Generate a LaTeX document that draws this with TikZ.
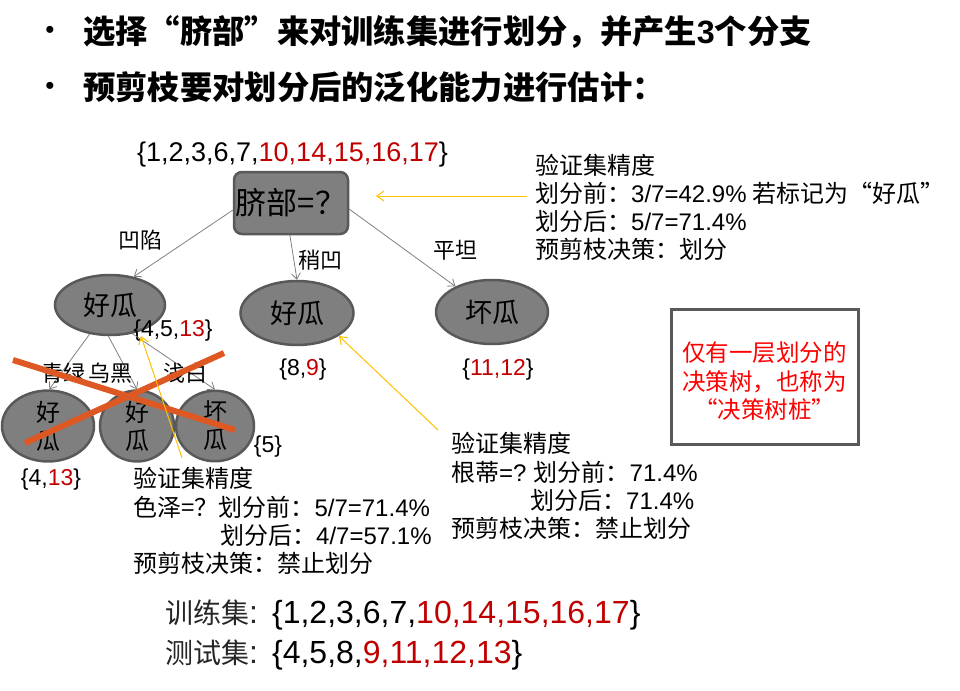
\documentclass[tikz,border=0pt]{standalone}
\usepackage{fontspec}
\setmainfont{Liberation Sans}
\newfontfamily\cjk{Noto Sans CJK SC}
\usetikzlibrary{shapes.geometric,arrows.meta}
\definecolor{nodefill}{RGB}{127,127,127}
\definecolor{nodeline}{RGB}{89,89,89}
\definecolor{setred}{RGB}{192,0,0}
\definecolor{crossred}{RGB}{222,88,36}
\definecolor{annoyellow}{RGB}{255,192,0}
\definecolor{edgegray}{RGB}{128,128,128}
\definecolor{boxred}{RGB}{255,0,0}
\newcommand\rd[1]{\textcolor{setred}{#1}}
\newcommand\lt[1]{{\rmfamily #1}}
\newcommand\fs[1]{\fontsize{#1}{#1}\selectfont}
\begin{document}
\begin{tikzpicture}[x=1pt,y=-1pt,
  treenode/.style={ellipse,draw=nodeline,fill=nodefill,line width=2.5pt,inner sep=0pt,font=\cjk\fs{27}},
  subnode/.style={ellipse,draw=nodeline,fill=nodefill,line width=2.5pt,inner sep=0pt,align=center,font=\cjk\fontsize{24}{28}\selectfont},
  rootbox/.style={rectangle,rounded corners=8pt,draw=nodeline,fill=nodefill,line width=2.5pt,minimum width=114pt,minimum height=62pt,inner sep=0pt,font=\cjk\fs{31}},
  edge/.style={draw=edgegray,line width=0.8pt,-{Straight Barb[length=6pt,width=9pt]}},
  yarrow/.style={draw=annoyellow,line width=1pt,-{Straight Barb[length=7pt,width=10pt]}},
  crossline/.style={draw=crossred,line width=6pt},
  elabel/.style={font=\cjk\fs{22},inner sep=0pt},
  setlabel/.style={font=\fs{23},inner sep=0pt,anchor=base},
  anno/.style={font=\cjk\fs{24},inner sep=0pt,anchor=base west},
  bullettext/.style={font=\cjk\bfseries\fs{32.3},inner sep=0pt,anchor=base west},
  redtext/.style={font=\cjk\fs{23.5},text=boxred,inner sep=0pt,anchor=base},
  bottomtext/.style={font=\cjk\fs{28},inner sep=0pt,anchor=base west,text=black!85}
]
\useasboundingbox (0,0) rectangle (960,690);

% bullets
\node[font=\fs{26},inner sep=0pt] (b1) at (50,32) {•};
\node[bullettext] (t1) at (83,44) {选择“脐部”来对训练集进行划分，并产生\lt{\bfseries 3}个分支};
\node[font=\fs{26},inner sep=0pt] (b2) at (50,88) {•};
\node[bullettext] (t2) at (83,100) {预剪枝要对划分后的泛化能力进行估计：};

% top set
\node[setlabel,font=\fs{27}] (rootset) at (292.5,161) {\{1,2,3,6,7,\rd{10,14,15,16,17}\}};

% tree
\node[rootbox] (root) at (291,203) {脐部=？};
\node[treenode,minimum width=110pt,minimum height=60pt] (L) at (110,305) {好瓜};
\node[treenode,minimum width=113pt,minimum height=64pt] (M) at (297,313) {好瓜};
\node[treenode,minimum width=112pt,minimum height=64pt] (R) at (492,312) {坏瓜};

\draw[edge] (root.187) -- (L.50);
\draw[edge] (root.-92) -- (M.north);
\draw[edge] (root.-6) -- (R.145);
\node[elabel] (l1) at (140,240) {凹陷};
\node[elabel] (l2) at (320,260) {稍凹};
\node[elabel] (l3) at (455,250) {平坦};

\node[setlabel] (setL) at (173,336) {\{4,5,\rd{13}\}};
\node[setlabel] (setM) at (303,375) {\{8,\rd{9}\}};
\node[setlabel] (setR) at (498,375) {\{\rd{11,12}\}};

% sub tree
\node[subnode,minimum width=92pt,minimum height=68pt] (SL) at (48,426) {好\\瓜};
\node[subnode,minimum width=74pt,minimum height=68pt] (SM) at (137,426) {好\\瓜};
\node[subnode,minimum width=78pt,minimum height=68pt] (SR) at (215,426) {坏\\瓜};
\draw[edge] (L.-125) -- (SL.88);
\draw[edge] (L.-93) -- (SM.north);
\draw[edge] (L.-52) -- (SR.north);
\node[elabel] (s1) at (63,373) {青绿};
\node[elabel] (s2) at (110,373) {乌黑};
\node[elabel] (s3) at (185,373) {浅白};
\node[setlabel] (setSR) at (268,452) {\{5\}};
\node[setlabel] (setSL) at (51,485) {\{4,\rd{13}\}};

% cross
\coordinate (c1a) at (13,360);
\coordinate (c1b) at (235,430);
\coordinate (c2a) at (25,443);
\coordinate (c2b) at (224,353);
\draw[crossline] (c1a) -- (c1b);
\draw[crossline] (c2a) -- (c2b);

% annotation 1
\node[anno] (a1) at (535,174) {验证集精度};
\node[anno] (a2) at (535,202) {划分前：\lt{3/7=42.9\%} 若标记为“好瓜”};
\node[anno] (a3) at (535,230) {划分后：\lt{5/7=71.4\%}};
\node[anno] (a4) at (535,258) {预剪枝决策：划分};
\coordinate (a1from) at (527,196);
\coordinate (a1tip) at (376,196);
\draw[yarrow] (a1from) -- (a1tip);

% annotation 2
\node[anno] (m1) at (451,452) {验证集精度};
\node[anno] (m2) at (451,481) {根蒂\lt{=?} 划分前：\lt{71.4\%}};
\node[anno] (m3) at (530,509) {划分后：\lt{71.4\%}};
\node[anno] (m4) at (451,537) {预剪枝决策：禁止划分};
\coordinate (m1from) at (438,430);
\coordinate (m1tip) at (339,336);
\draw[yarrow] (m1from) -- (m1tip);

% annotation 3
\node[anno] (n1) at (133,487) {验证集精度};
\node[anno] (n2) at (133,516) {色泽=？划分前：\lt{5/7=71.4\%}};
\node[anno] (n3) at (220,544) {划分后：\lt{4/7=57.1\%}};
\node[anno] (n4) at (133,572) {预剪枝决策：禁止划分};
\coordinate (n1from) at (182,458);
\coordinate (n1tip) at (141,336);
\draw[yarrow] (n1from) -- (n1tip);

% red box
\node[draw=nodeline,line width=3pt,minimum width=187pt,minimum height=135pt,inner sep=0pt] (stump) at (764.5,376.5) {};
\node[redtext] (r1) at (764.5,361) {仅有一层划分的};
\node[redtext] (r2) at (764.5,390) {决策树，也称为};
\node[redtext] (r3) at (764.5,418) {“决策树桩”};

% bottom
\node[bottomtext] (train) at (165,623) {训练集\lt{\fs{32}:\hspace{14pt}\textcolor{black}{\{1,2,3,6,7,\rd{10,14,15,16,17}\}}}};
\node[bottomtext] (test) at (165,663) {测试集\lt{\fs{32}:\hspace{14pt}\textcolor{black}{\{4,5,8,\rd{9,11,12,13}\}}}};
\end{tikzpicture}
\end{document}
